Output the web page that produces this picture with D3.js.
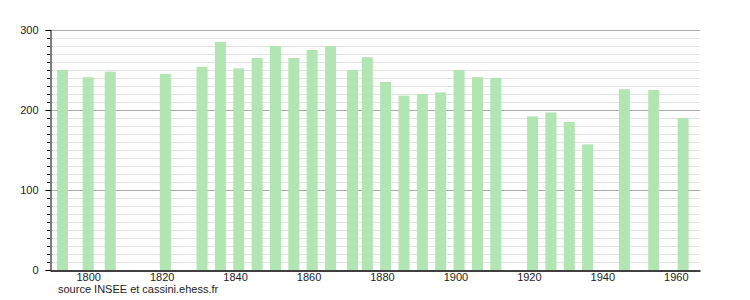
<!DOCTYPE html>
<html lang="fr">
<head>
    <meta charset="UTF-8">
    <title>Population</title>
    <script src="https://d3js.org/d3.v7.min.js"></script>
    <style>
        body {
            margin: 0;
            padding: 0;
            background: #fff;
            font-family: "Liberation Sans", Arial, sans-serif;
        }
        .bar { fill: #b1e5b1; }
        .grid-minor { stroke: #e2e2e2; stroke-width: 1; }
        .grid-major { stroke: #a8a8a8; stroke-width: 1; }
        .axis text { font-size: 11px; fill: #222; font-family: "Liberation Sans", Arial, sans-serif; }
        .source { font-size: 11px; fill: #222; }
    </style>
</head>
<body>
    <div id="chart"></div>
    <script>
        // recensements
        const years = [1793, 1800, 1806, 1821, 1831, 1836, 1841, 1846, 1851, 1856,
                       1861, 1866, 1872, 1876, 1881, 1886, 1891, 1896, 1901, 1906,
                       1911, 1921, 1926, 1931, 1936, 1946, 1954, 1962];
        const population = [250, 241, 248, 245, 254, 285, 252, 265, 280, 265,
                            275, 280, 250, 266, 235, 218, 220, 222, 250, 241,
                            240, 192, 197, 185, 157, 226, 225, 190];
        const yearTicks = [1800, 1820, 1840, 1860, 1880, 1900, 1920, 1940, 1960];
        const popTicks = [0, 100, 200, 300];

        const width = 750, height = 300;
        const margin = { left: 50, right: 50, top: 30, bottom: 30 };

        const svg = d3.select("#chart")
            .append("svg")
            .attr("width", width)
            .attr("height", height);

        const x = d3.scaleLinear()
            .domain([1789.6, 1966.6])
            .range([margin.left, width - margin.right]);

        const y = d3.scaleLinear()
            .domain([0, 300])
            .range([height - margin.bottom, margin.top]);

        const data = years.map((yr, i) => ({ year: yr, pop: population[i] }));

        // lignes de grille (tous les 10, plus foncées tous les 100)
        const gridVals = d3.range(10, 301, 10);
        svg.selectAll(".grid")
            .data(gridVals)
            .enter().append("line")
            .attr("class", d => d % 100 === 0 ? "grid-major" : "grid-minor")
            .attr("x1", margin.left)
            .attr("x2", width - margin.right)
            .attr("y1", d => Math.round(y(d)) + 0.5)
            .attr("y2", d => Math.round(y(d)) + 0.5);

        const barW = x(1793) - x(1790);
        svg.selectAll(".bar")
            .data(data)
            .enter().append("rect")
            .attr("class", "bar")
            .attr("x", d => x(d.year) - barW / 2)
            .attr("width", barW)
            .attr("y", d => y(d.pop))
            .attr("height", d => y(0) - y(d.pop));

        // axe vertical : petits traits tous les 10
        const yAxis = svg.append("g")
            .attr("class", "axis")
            .attr("transform", `translate(${margin.left + 0.5},0)`)
            .call(d3.axisLeft(y).tickValues(popTicks).tickSize(5).tickPadding(7));
        yAxis.select(".domain").attr("stroke", "#000");
        yAxis.selectAll(".tick line").attr("stroke", "#000");

        svg.append("g")
            .selectAll("line")
            .data(gridVals.filter(d => d % 100 !== 0))
            .enter().append("line")
            .attr("x1", margin.left - 3)
            .attr("x2", margin.left)
            .attr("y1", d => Math.round(y(d)) + 0.5)
            .attr("y2", d => Math.round(y(d)) + 0.5)
            .attr("stroke", "#000");

        const xAxis = svg.append("g")
            .attr("class", "axis")
            .attr("transform", `translate(0,${height - margin.bottom + 0.5})`)
            .call(d3.axisBottom(x).tickValues(yearTicks).tickFormat(d3.format("d")).tickSize(0).tickPadding(3));
        xAxis.select(".domain").attr("stroke", "#000").attr("stroke-width", 1.5);

        svg.append("text")
            .attr("class", "source")
            .attr("x", 58)
            .attr("y", 293)
            .text("source INSEE et cassini.ehess.fr");
    </script>
</body>
</html>
